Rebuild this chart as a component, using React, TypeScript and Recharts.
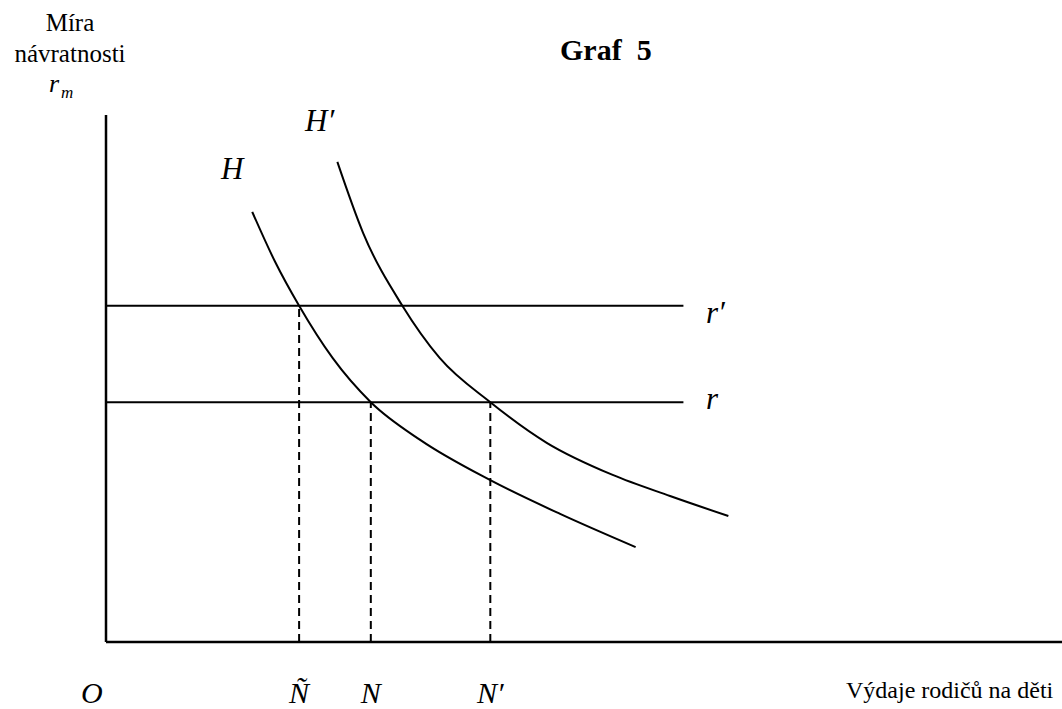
import React from "react";
import { LineChart, Line, XAxis, YAxis } from "recharts";

// Curve H, abstract units 0..100 on both axes
const hCurve = [
  { x: 15.3, y: 81.6 },
  { x: 17.7, y: 72.1 },
  { x: 20.2, y: 63.8 },
  { x: 23.7, y: 53.9 },
  { x: 27.7, y: 45.5 },
  { x: 32.9, y: 38.3 },
  { x: 40.2, y: 30.7 },
  { x: 47.5, y: 24.3 },
  { x: 55.4, y: 18.0 },
];

// Curve H′
const hPrimeCurve = [
  { x: 24.2, y: 91.1 },
  { x: 26.9, y: 77.6 },
  { x: 31.0, y: 63.8 },
  { x: 34.9, y: 53.9 },
  { x: 40.2, y: 45.5 },
  { x: 46.1, y: 37.8 },
  { x: 53.0, y: 31.7 },
  { x: 59.0, y: 27.7 },
  { x: 65.1, y: 23.9 },
];

// Rate levels r′ and r
const rPrimeLevel = 63.8;
const rLevel = 45.5;
const rateLineEnd = 60.4;

const rPrimeLine = [
  { x: 0, y: rPrimeLevel },
  { x: rateLineEnd, y: rPrimeLevel },
];
const rLine = [
  { x: 0, y: rLevel },
  { x: rateLineEnd, y: rLevel },
];

// Equilibrium quantities
const nTildeX = 20.2;
const nX = 27.7;
const nPrimeX = 40.2;

const dropNTilde = [
  { x: nTildeX, y: 0 },
  { x: nTildeX, y: rPrimeLevel },
];
const dropN = [
  { x: nX, y: 0 },
  { x: nX, y: rLevel },
];
const dropNPrime = [
  { x: nPrimeX, y: 0 },
  { x: nPrimeX, y: rLevel },
];

const xTicks = [nTildeX, nX, nPrimeX];
const xTickLabels = ["Ñ", "N", "N′"];

const FONT =
  "'Liberation Serif', Tinos, 'Times New Roman', Times, 'Noto Serif', 'DejaVu Serif', serif";

const XTick = (props: any) => {
  const { x, payload, index } = props;
  const i = xTicks.indexOf(payload.value);
  const label = xTickLabels[i >= 0 ? i : index];
  return (
    <text
      x={x}
      y={703}
      textAnchor="middle"
      fontFamily={FONT}
      fontStyle="italic"
      fontSize={30}
      fill="#000"
    >
      {label}
    </text>
  );
};

const txt = (
  x: number,
  y: number,
  s: string,
  size: number,
  opts: { italic?: boolean; bold?: boolean; anchor?: string } = {}
) => (
  <text
    x={x}
    y={y}
    fontFamily={FONT}
    fontSize={size}
    fontStyle={opts.italic ? "italic" : "normal"}
    fontWeight={opts.bold ? "bold" : "normal"}
    textAnchor={opts.anchor || "start"}
    fill="#000"
  >
    {s}
  </text>
);

export default function App() {
  return (
    <div
      style={{
        position: "absolute",
        left: 0,
        top: 0,
        width: 1062,
        height: 709,
        background: "#fff",
        overflow: "hidden",
        fontFamily: FONT,
      }}
    >
      <LineChart
        width={1062}
        height={709}
        margin={{ top: 115, right: 0, left: 105, bottom: 66 }}
      >
        <XAxis
          type="number"
          dataKey="x"
          domain={[0, 100]}
          allowDataOverflow
          ticks={xTicks}
          interval={0}
          tickLine={false}
          tick={<XTick />}
          height={1}
          axisLine={{ stroke: "#000", strokeWidth: 2.5 }}
        />
        <YAxis
          type="number"
          dataKey="y"
          domain={[0, 100]}
          allowDataOverflow
          tick={false}
          tickLine={false}
          width={1}
          axisLine={{ stroke: "#000", strokeWidth: 2.5 }}
        />
        <Line data={rPrimeLine} dataKey="y" type="linear" stroke="#000" strokeWidth={2} dot={false} activeDot={false} isAnimationActive={false} />
        <Line data={rLine} dataKey="y" type="linear" stroke="#000" strokeWidth={2} dot={false} activeDot={false} isAnimationActive={false} />
        <Line data={dropNTilde} dataKey="y" type="linear" stroke="#000" strokeWidth={2} strokeDasharray="8 5" dot={false} activeDot={false} isAnimationActive={false} />
        <Line data={dropN} dataKey="y" type="linear" stroke="#000" strokeWidth={2} strokeDasharray="8 5" dot={false} activeDot={false} isAnimationActive={false} />
        <Line data={dropNPrime} dataKey="y" type="linear" stroke="#000" strokeWidth={2} strokeDasharray="8 5" dot={false} activeDot={false} isAnimationActive={false} />
        <Line data={hCurve} dataKey="y" type="monotone" stroke="#000" strokeWidth={2} dot={false} activeDot={false} isAnimationActive={false} />
        <Line data={hPrimeCurve} dataKey="y" type="monotone" stroke="#000" strokeWidth={2} dot={false} activeDot={false} isAnimationActive={false} />
      </LineChart>
      <svg
        width={1062}
        height={709}
        style={{ position: "absolute", left: 0, top: 0, pointerEvents: "none" }}
      >
        {txt(70, 31, "Míra", 25, { anchor: "middle" })}
        {txt(70, 62, "návratnosti", 25, { anchor: "middle" })}
        {txt(49, 92, "r", 26, { italic: true })}
        {txt(61, 98, "m", 17, { italic: true })}
        {txt(560, 60, "Graf\u00A0\u00A05", 30, { bold: true })}
        {txt(221, 179, "H", 31, { italic: true })}
        {txt(305, 131, "H′", 31, { italic: true })}
        {txt(706, 323, "r′", 31, { italic: true })}
        {txt(706, 409, "r", 31, { italic: true })}
        {txt(81, 703, "O", 30, { italic: true })}
        {txt(846, 698, "Výdaje rodičů na děti", 24)}
      </svg>
    </div>
  );
}
